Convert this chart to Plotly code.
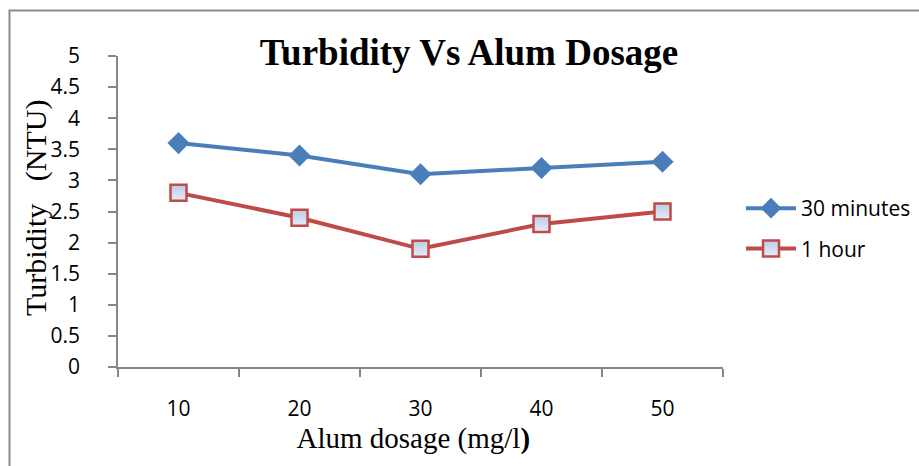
import plotly.graph_objects as go

categories = ["10", "20", "30", "40", "50"]
series_30min = [3.6, 3.4, 3.1, 3.2, 3.3]
series_1hour = [2.8, 2.4, 1.9, 2.3, 2.5]
y_ticks = [0, 0.5, 1, 1.5, 2, 2.5, 3, 3.5, 4, 4.5, 5]
y_tick_labels = ["0", "0.5", "1", "1.5", "2", "2.5", "3", "3.5", "4", "4.5", "5"]

fig = go.Figure()
fig.add_trace(go.Scatter(
    x=categories, y=series_30min, name="30 minutes", mode="lines+markers",
    legendgroup="a",
    line=dict(color="#4a7ebb", width=4),
    marker=dict(symbol="diamond", size=17, color="#4a7ebb", line=dict(width=0)),
))
fig.add_trace(go.Scatter(
    x=categories, y=series_1hour, name="1 hour", mode="lines+markers",
    legendgroup="b",
    line=dict(color="#be4b48", width=4),
    marker=dict(symbol="square", size=16, color="#b9cde5",
                gradient=dict(type="vertical", color="#e6edf7"),
                line=dict(color="#be4b48", width=2.5)),
))

W, H = 919, 466
L, R, T, B = 118, 723, 56, 367
pw, ph = R - L, B - T

fig.update_layout(
    width=W, height=H,
    margin=dict(l=L, r=W - R, t=T, b=H - B, autoexpand=False),
    paper_bgcolor="white", plot_bgcolor="white",
    title=dict(text="<b>Turbidity Vs Alum Dosage</b>",
               font=dict(family="Liberation Serif", size=37, color="black"),
               x=469 / W, xanchor="center", y=1 - 52 / H, yanchor="middle"),
    showlegend=True,
    legend=dict(x=(741 - L) / pw, y=(B - 188) / ph, xanchor="left", yanchor="top",
                font=dict(family="Open Sans", size=21, color="black"),
                itemwidth=50, traceorder="grouped", tracegroupgap=10,
                bgcolor="rgba(0,0,0,0)"),
    xaxis=dict(type="category", range=[-0.5, 4.5], tickson="boundaries",
               showline=True, linecolor="#868686", linewidth=1.5,
               ticks="outside", ticklen=8, tickcolor="#868686", tickwidth=1.5,
               showgrid=False, zeroline=False,
               tickfont=dict(family="Open Sans", size=21, color="black"),
               ticklabelstandoff=22,
               title=dict(text="Alum dosage (mg/l<b>)</b>&nbsp;&nbsp;",
                          font=dict(family="Liberation Serif", size=29, color="black"),
                          standoff=4)),
    yaxis=dict(range=[0, 5], tickvals=y_ticks, ticktext=y_tick_labels,
               showline=True, linecolor="#868686", linewidth=1.5,
               ticks="outside", ticklen=8, tickcolor="#868686", tickwidth=1.5,
               showgrid=False, zeroline=False,
               tickfont=dict(family="Open Sans", size=21, color="black"),
               ticklabelstandoff=24),
    annotations=[dict(text="Turbidity&nbsp;&nbsp;&nbsp;(NTU)", textangle=-90,
                      xref="paper", yref="paper",
                      x=(36 - L) / pw, y=(B - 208) / ph,
                      xanchor="center", yanchor="middle", showarrow=False,
                      font=dict(family="Liberation Serif", size=30, color="black"))],
    shapes=[dict(type="rect", xref="paper", yref="paper",
                 x0=(9.5 - L) / pw, x1=(W + 20 - L) / pw,
                 y0=(B - (H + 20)) / ph, y1=(B - 10.5) / ph,
                 line=dict(color="#8c8c8c", width=2), fillcolor="rgba(0,0,0,0)", layer="below")],
)

fig.write_html("out.html")
